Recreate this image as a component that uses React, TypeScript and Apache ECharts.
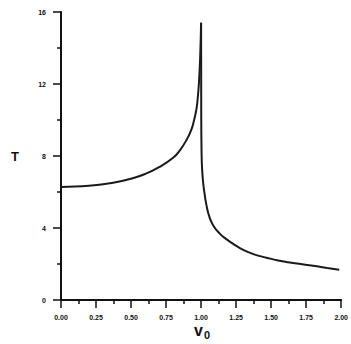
import React, { useEffect, useRef } from "react";
import * as echarts from "echarts";

// Values (v0, T)
const leftV0 = [0, 0.1, 0.2, 0.3, 0.4, 0.5, 0.6, 0.7, 0.8, 0.85, 0.9, 0.93, 0.95, 0.966, 0.975, 0.985, 0.993, 1.0];
const leftT = [6.28, 6.3, 6.35, 6.43, 6.55, 6.74, 7.0, 7.38, 7.9, 8.33, 8.95, 9.45, 10.0, 10.57, 11.13, 12.1, 13.4, 15.4];
const rightV0 = [1.0, 1.001, 1.003, 1.007, 1.015, 1.025, 1.04, 1.06, 1.09, 1.133, 1.18, 1.226, 1.28, 1.346, 1.4, 1.467, 1.55, 1.62, 1.7, 1.8, 1.9, 1.986];
const rightT = [15.4, 10.5, 8.4, 7.3, 6.5, 5.9, 5.2, 4.6, 4.1, 3.69, 3.38, 3.13, 2.87, 2.63, 2.48, 2.35, 2.2, 2.1, 2.01, 1.9, 1.78, 1.68];
const xTicks = [0, 0.25, 0.5, 0.75, 1.0, 1.25, 1.5, 1.75, 2.0];
const yTicks = [0, 4, 8, 12, 16];

const FONT = "Liberation Sans, Arial, sans-serif";
const lineStyle = { color: "#1a1a1a", width: 2 };

export default function App() {
  const ref = useRef<HTMLDivElement>(null);
  useEffect(() => {
    if (!ref.current) return;
    const chart = echarts.init(ref.current, null, { renderer: "svg" });
    chart.setOption({
      animation: false,
      backgroundColor: "#ffffff",
      grid: { left: 61, right: 9, top: 12, bottom: 44 },
      xAxis: {
        type: "value",
        min: xTicks[0],
        max: xTicks[xTicks.length - 1],
        interval: 0.25,
        axisLine: { show: true, onZero: false, lineStyle: { color: "#111", width: 2 } },
        axisTick: { show: true, inside: false, length: 8, lineStyle: { color: "#111", width: 1.5 } },
        minorTick: { show: true, splitNumber: 2, length: 4, lineStyle: { color: "#111", width: 1.5 } },
        splitLine: { show: false },
        axisLabel: {
          margin: 14,
          fontSize: 7,
          fontWeight: "bold",
          color: "#111",
          fontFamily: FONT,
          formatter: (v: number) => v.toFixed(2),
        },
      },
      yAxis: {
        type: "value",
        min: yTicks[0],
        max: yTicks[yTicks.length - 1],
        interval: 4,
        axisLine: { show: true, onZero: false, lineStyle: { color: "#111", width: 2 } },
        axisTick: { show: true, inside: false, length: 8, lineStyle: { color: "#111", width: 1.5 } },
        minorTick: { show: true, splitNumber: 2, length: 4, lineStyle: { color: "#111", width: 1.5 } },
        splitLine: { show: false },
        axisLabel: {
          margin: 15,
          fontSize: 7,
          fontWeight: "bold",
          color: "#111",
          fontFamily: FONT,
        },
        name: "T",
        nameLocation: "middle",
        nameRotate: 0,
        nameGap: 42,
        nameTextStyle: {
          fontSize: 13,
          fontWeight: "bold",
          color: "#111",
          fontFamily: FONT,
        },
      },
      graphic: [
        {
          type: "text",
          left: 194,
          top: 322,
          style: { text: "v", fill: "#111", font: `bold 16px ${FONT}` },
        },
        {
          type: "text",
          left: 204,
          top: 329,
          style: { text: "0", fill: "#111", font: `bold 11px ${FONT}` },
        },
      ],
      series: [
        {
          type: "line",
          data: leftV0.map((v, i) => [v, leftT[i]]),
          showSymbol: false,
          smooth: 0.5,
          lineStyle,
        },
        {
          type: "line",
          data: rightV0.map((v, i) => [v, rightT[i]]),
          showSymbol: false,
          smooth: 0.5,
          lineStyle,
        },
      ],
    });
    return () => chart.dispose();
  }, []);
  return <div ref={ref} style={{ width: 351, height: 344, position: "absolute", left: 0, top: 0 }} />;
}
